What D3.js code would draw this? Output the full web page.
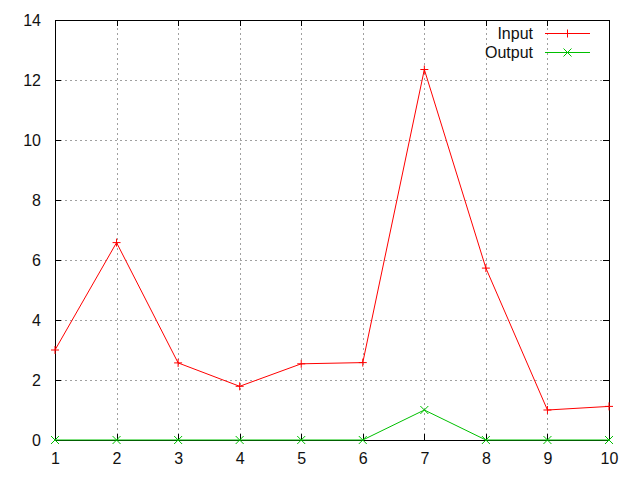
<!DOCTYPE html>
<html>
<head>
<meta charset="utf-8">
<script src="https://cdn.jsdelivr.net/npm/d3@7"></script>
<style>
  body { margin: 0; background: #fff; }
  text { font-family: "Liberation Sans", Arial, sans-serif; font-size: 16px; fill: #111; }
</style>
</head>
<body>
<div id="chart"></div>
<script>
let xValues = [1, 2, 3, 4, 5, 6, 7, 8, 9, 10]
let inputValues = [3.0, 6.58, 2.57, 1.79, 2.54, 2.58, 12.35, 5.73, 1.0, 1.12]
let outputValues = [0, 0, 0, 0, 0, 0, 1, 0, 0, 0]
let yTicks = [0, 2, 4, 6, 8, 10, 12, 14]

let seriesNames = ["Input", "Output"]
let seriesColors = ["#ff0000", "#00c000"]

let width = 640
let height = 480
let margins = { top: 20, right: 31, bottom: 40, left: 55 }

let svg = d3.select("#chart").append("svg")
    .attr("width", width)
    .attr("height", height)

let x = d3.scaleLinear()
    .domain([1, 10])
    .range([margins.left, width - margins.right])
let y = d3.scaleLinear()
    .domain([0, 14])
    .range([height - margins.bottom, margins.top])

// grid
let grid = svg.append("g")
    .attr("stroke", "#a0a0a0")
    .attr("stroke-dasharray", "2,3")
    .attr("shape-rendering", "crispEdges")
grid.selectAll(".gx").data(xValues.slice(1, -1)).enter().append("line")
    .attr("x1", d => x(d) + 0.5).attr("x2", d => x(d) + 0.5)
    .attr("y1", y(0)).attr("y2", y(14))
grid.selectAll(".gy").data(yTicks.slice(1, -1)).enter().append("line")
    .attr("x1", x(1)).attr("x2", x(10))
    .attr("y1", d => y(d) + 0.5).attr("y2", d => y(d) + 0.5)

// axes (gnuplot style: inward ticks, mirrored)
let tick = 6
let axisLeft = d3.axisLeft(y).tickValues(yTicks).tickSize(-tick).tickPadding(14)
let axisRight = d3.axisRight(y).tickValues(yTicks).tickSize(-tick).tickFormat("")
let axisBottom = d3.axisBottom(x).tickValues(xValues).tickSize(-tick).tickPadding(13)
let axisTop = d3.axisTop(x).tickValues(xValues).tickSize(-tick).tickFormat("")

function styleAxis(g) {
    g.select(".domain").remove()
    g.selectAll("line").attr("stroke", "#000").attr("shape-rendering", "crispEdges")
    g.selectAll("text").attr("font-family", null).attr("font-size", null).attr("fill", "#111")
}

svg.append("g").attr("transform", `translate(${margins.left},0)`).call(axisLeft).call(styleAxis)
svg.append("g").attr("transform", `translate(${width - margins.right},0)`).call(axisRight).call(styleAxis)
svg.append("g").attr("transform", `translate(0,${height - margins.bottom})`).call(axisBottom).call(styleAxis)
svg.append("g").attr("transform", `translate(0,${margins.top})`).call(axisTop).call(styleAxis)

// border
svg.append("rect")
    .attr("x", x(1) + 0.5).attr("y", y(14) + 0.5)
    .attr("width", x(10) - x(1)).attr("height", y(0) - y(14))
    .attr("fill", "none").attr("stroke", "#000")
    .attr("shape-rendering", "crispEdges")

let line = d3.line().x(d => x(d[0])).y(d => y(d[1]))

function plusPath(cx, cy, s) {
    return `M${cx - s},${cy}H${cx + s}M${cx},${cy - s}V${cy + s}`
}
function crossPath(cx, cy, s) {
    return `M${cx - s},${cy - s}L${cx + s},${cy + s}M${cx - s},${cy + s}L${cx + s},${cy - s}`
}

let series = [inputValues, outputValues]
let markers = [plusPath, crossPath]

series.forEach((vals, i) => {
    let pts = xValues.map((xv, j) => [xv, vals[j]])
    svg.append("path")
        .datum(pts)
        .attr("d", line)
        .attr("fill", "none")
        .attr("stroke", seriesColors[i])
        .attr("stroke-width", 1)
    svg.append("path")
        .attr("d", pts.map(p => markers[i](x(p[0]), y(p[1]), 4)).join(""))
        .attr("fill", "none")
        .attr("stroke", seriesColors[i])
        .attr("stroke-width", 1)
})

// legend
let legend = svg.append("g")
seriesNames.forEach((name, i) => {
    let ly = 33 + i * 19
    legend.append("text")
        .attr("x", 533).attr("y", ly)
        .attr("dy", "0.35em")
        .attr("text-anchor", "end")
        .text(name)
    legend.append("line")
        .attr("x1", 545).attr("x2", 590)
        .attr("y1", ly + 0.5).attr("y2", ly + 0.5)
        .attr("stroke", seriesColors[i])
    legend.append("path")
        .attr("d", markers[i](567.5, ly + 0.5, 4))
        .attr("fill", "none")
        .attr("stroke", seriesColors[i])
})
</script>
</body>
</html>
